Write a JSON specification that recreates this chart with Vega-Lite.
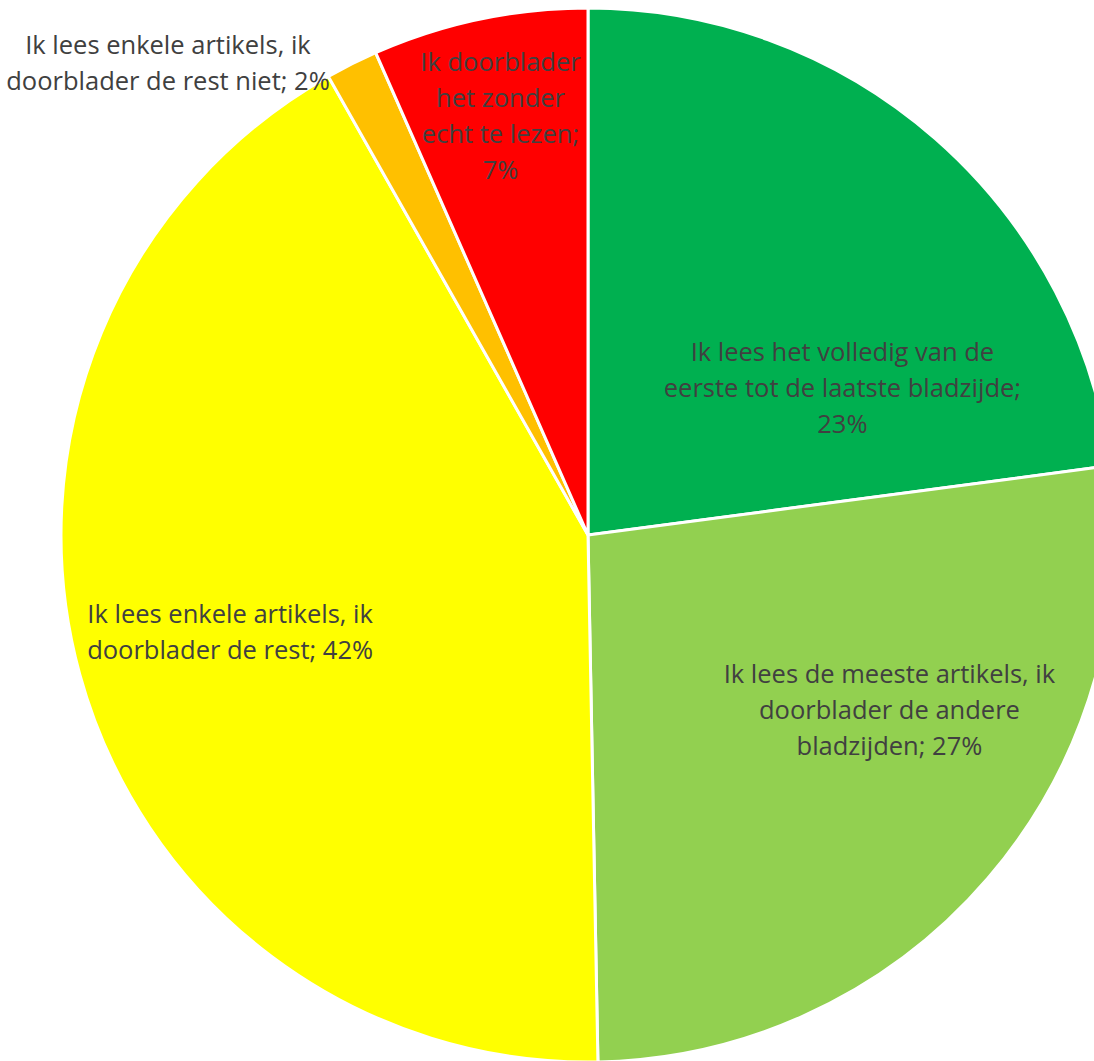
{
  "$schema": "https://vega.github.io/schema/vega-lite/v6.json",
  "width": 1012,
  "height": 1052,
  "autosize": {"type": "none"},
  "padding": {"left": 82, "top": 9, "right": 0, "bottom": 0},
  "background": "white",
  "view": {"stroke": null},
  "config": {"text": {"font": "Open Sans", "fontSize": 25.5, "fill": "#404040", "lineBreak": "\n", "lineHeight": 36, "align": "center", "baseline": "middle"}},
  "data": {
    "values": [
      {"idx": 1, "cat": "volledig", "pct": 22.9, "label": "Ik lees het volledig van de\neerste tot de laatste bladzijde;\n23%"},
      {"idx": 2, "cat": "meeste", "pct": 26.8, "label": "Ik lees de meeste artikels, ik\ndoorblader de andere\nbladzijden; 27%"},
      {"idx": 3, "cat": "enkele", "pct": 42.1, "label": "Ik lees enkele artikels, ik\ndoorblader de rest; 42%"},
      {"idx": 4, "cat": "enkele_niet", "pct": 1.6, "label": "Ik lees enkele artikels, ik\ndoorblader de rest niet; 2%"},
      {"idx": 5, "cat": "doorblader", "pct": 6.6, "label": "Ik doorblader\nhet zonder\necht te lezen;\n7%"}
    ]
  },
  "encoding": {
    "theta": {"field": "pct", "type": "quantitative", "stack": true},
    "order": {"field": "idx", "type": "quantitative"},
    "detail": {"field": "cat", "type": "nominal"}
  },
  "layer": [
    {
      "mark": {"type": "arc", "outerRadius": 527, "stroke": "white", "strokeWidth": 3},
      "encoding": {
        "color": {
          "field": "cat", "type": "nominal", "legend": null,
          "scale": {
            "domain": ["volledig", "meeste", "enkele", "enkele_niet", "doorblader"],
            "range": ["#00B050", "#92D050", "#FFFF00", "#FFC000", "#FF0000"]
          }
        }
      }
    },
    {
      "mark": {"type": "text", "radius": 295, "dx": 60, "dy": 40},
      "encoding": {"text": {"condition": {"test": "datum.cat === 'volledig'", "field": "label"}, "value": ""}}
    },
    {
      "mark": {"type": "text", "radius": 350, "dx": 36, "dy": -88},
      "encoding": {"text": {"condition": {"test": "datum.cat === 'meeste'", "field": "label"}, "value": ""}}
    },
    {
      "mark": {"type": "text", "radius": 370, "dx": -1, "dy": -18},
      "encoding": {"text": {"condition": {"test": "datum.cat === 'enkele'", "field": "label"}, "value": ""}}
    },
    {
      "mark": {"type": "text", "radius": 600, "dx": -151, "dy": 47},
      "encoding": {"text": {"condition": {"test": "datum.cat === 'enkele_niet'", "field": "label"}, "value": ""}}
    },
    {
      "mark": {"type": "text", "radius": 425, "dx": 0, "dy": -56},
      "encoding": {"text": {"condition": {"test": "datum.cat === 'doorblader'", "field": "label"}, "value": ""}}
    }
  ]
}
